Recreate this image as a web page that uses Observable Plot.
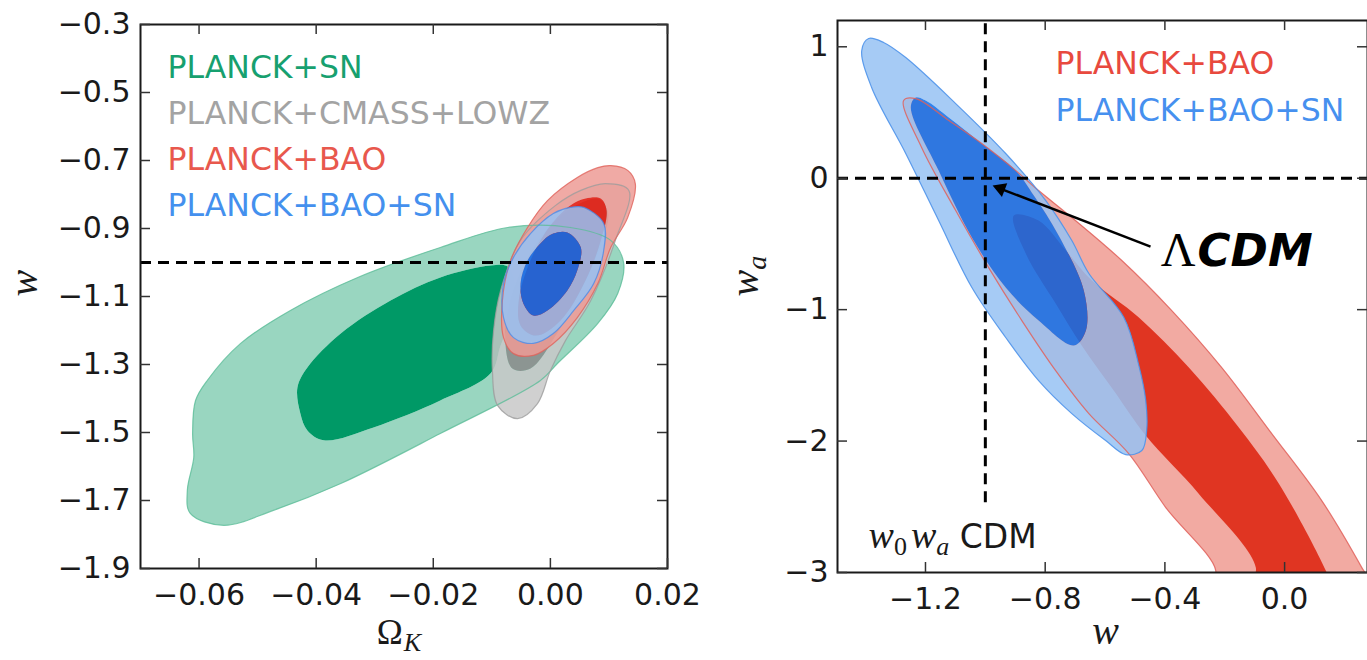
<!DOCTYPE html>
<html><head><meta charset="utf-8">
<script src="https://cdn.jsdelivr.net/npm/d3@7"></script>
<script src="https://cdn.jsdelivr.net/npm/@observablehq/plot@0.6"></script>
<style>
html,body{margin:0;padding:0;background:#fff;overflow:hidden;}
#fig{position:relative;width:1367px;height:660px;overflow:hidden;}
#left{position:absolute;left:0;top:0;}
#right{position:absolute;left:720px;top:0;}
</style></head><body>
<div id="fig"><div id="left"></div><div id="right"></div></div>
<script>
// ---------------- LEFT PANEL DATA (Omega_K, w) ----------------
const leftXTicks = [-0.06, -0.04, -0.02, 0.00, 0.02];
const leftYTicks = [-1.9, -1.7, -1.5, -1.3, -1.1, -0.9, -0.7, -0.5, -0.3];
const leftLCDM = [-1];
const leftLegendLabels = ["PLANCK+SN", "PLANCK+CMASS+LOWZ", "PLANCK+BAO", "PLANCK+BAO+SN"];

const snOuter = [[-0.0073,-0.897],[0.0034,-0.897],[0.0103,-0.935],[0.0125,-1.000],[0.0115,-1.091],[0.0081,-1.179],[0.0012,-1.297],[-0.0017,-1.347],[-0.0188,-1.503],[-0.0358,-1.650],[-0.0473,-1.729],[-0.0558,-1.773],[-0.0615,-1.738],[-0.0620,-1.670],[-0.0609,-1.573],[-0.0611,-1.503],[-0.0606,-1.406],[-0.0586,-1.347],[-0.0529,-1.238],[-0.0444,-1.141],[-0.0329,-1.044],[-0.0188,-0.956]];
const snInner = [[-0.0102,-1.009],[-0.0073,-1.012],[-0.0060,-1.068],[-0.0065,-1.156],[-0.0085,-1.244],[-0.0102,-1.326],[-0.0188,-1.406],[-0.0302,-1.485],[-0.0387,-1.523],[-0.0415,-1.494],[-0.0427,-1.444],[-0.0432,-1.368],[-0.0415,-1.309],[-0.0358,-1.209],[-0.0273,-1.112],[-0.0188,-1.044]];
const lssOuter = [[0.0094,-0.768],[0.0134,-0.788],[0.0111,-0.935],[0.0069,-1.112],[0.0026,-1.229],[0.0000,-1.318],[-0.0022,-1.415],[-0.0056,-1.459],[-0.0090,-1.421],[-0.0099,-1.318],[-0.0097,-1.200],[-0.0085,-1.082],[-0.0051,-0.935],[0.0009,-0.832],[0.0052,-0.788]];
const lssInner = [[0.0082,-0.812],[0.0099,-0.853],[0.0086,-0.950],[0.0052,-1.082],[0.0009,-1.215],[-0.0034,-1.312],[-0.0065,-1.312],[-0.0077,-1.229],[-0.0068,-1.112],[-0.0042,-0.994],[0.0000,-0.891],[0.0043,-0.832]];
const baoOuterL = [[0.0081,-0.721],[0.0103,-0.715],[0.0132,-0.729],[0.0145,-0.768],[0.0132,-0.868],[0.0103,-0.956],[0.0081,-1.062],[0.0046,-1.162],[0.0005,-1.238],[-0.0029,-1.273],[-0.0063,-1.268],[-0.0080,-1.221],[-0.0082,-1.112],[-0.0068,-0.994],[-0.0039,-0.897],[-0.0005,-0.818],[0.0046,-0.750]];
const baoInnerL = [[0.0060,-0.812],[0.0086,-0.812],[0.0096,-0.847],[0.0086,-0.935],[0.0060,-1.053],[0.0017,-1.171],[-0.0025,-1.215],[-0.0051,-1.185],[-0.0054,-1.112],[-0.0034,-0.994],[0.0000,-0.891],[0.0034,-0.832]];
const baoSnOuterL = [[0.0057,-0.838],[0.0091,-0.885],[0.0091,-0.965],[0.0074,-1.062],[0.0040,-1.141],[0.0005,-1.209],[-0.0029,-1.238],[-0.0063,-1.221],[-0.0080,-1.162],[-0.0080,-1.062],[-0.0063,-0.985],[-0.0034,-0.915],[0.0005,-0.856],[0.0034,-0.838]];
const baoSnInnerL = [[0.0029,-0.912],[0.0052,-0.956],[0.0046,-1.023],[0.0029,-1.082],[-0.0005,-1.141],[-0.0029,-1.156],[-0.0046,-1.121],[-0.0051,-1.062],[-0.0039,-0.994],[-0.0012,-0.935],[0.0005,-0.915]];

// ---------------- RIGHT PANEL DATA (w, w_a) ----------------
const rightXTicks = [-1.2, -0.8, -0.4, 0.0];
const rightYTicks = [-3, -2, -1, 0, 1];
const rightLCDMw = [-1];
const rightLCDMwa = [0];
const wDashRange = [-2.47, 1.2];
const rightLegendLabels = ["PLANCK+BAO", "PLANCK+BAO+SN"];

const baoOuterR = [[-1.273,0.591],[-1.233,0.606],[-1.122,0.439],[-1.012,0.264],[-0.898,0.058],[-0.822,-0.094],[-0.711,-0.299],[-0.544,-0.626],[-0.377,-1.007],[-0.210,-1.441],[-0.043,-1.943],[0.124,-2.453],[0.258,-2.963],[0.298,-3.138],[-0.253,-3.138],[-0.230,-2.986],[-0.397,-2.506],[-0.521,-2.095],[-0.654,-1.791],[-0.765,-1.464],[-0.878,-1.083],[-0.989,-0.680],[-1.099,-0.246],[-1.213,0.234]];
const baoInnerR = [[-0.905,-0.284],[-0.822,-0.322],[-0.731,-0.550],[-0.644,-0.779],[-0.487,-1.060],[-0.320,-1.441],[-0.153,-1.897],[-0.019,-2.324],[0.138,-2.986],[0.164,-3.138],[-0.120,-3.138],[-0.096,-2.963],[-0.287,-2.400],[-0.464,-1.958],[-0.571,-1.616],[-0.678,-1.273],[-0.765,-0.954],[-0.865,-0.573]];
const baoSnOuterR = [[-1.390,1.063],[-1.413,0.972],[-1.380,0.690],[-1.266,0.188],[-1.156,-0.322],[-1.045,-0.832],[-0.932,-1.212],[-0.822,-1.540],[-0.711,-1.791],[-0.598,-1.996],[-0.531,-2.103],[-0.477,-2.072],[-0.461,-1.920],[-0.464,-1.692],[-0.487,-1.426],[-0.537,-1.060],[-0.654,-0.725],[-0.711,-0.474],[-0.798,-0.170],[-0.932,0.188],[-1.099,0.568],[-1.266,0.918],[-1.340,1.033]];
const baoSnInnerR = [[-1.233,0.614],[-1.199,0.591],[-1.122,0.462],[-1.012,0.264],[-0.898,0.058],[-0.838,-0.132],[-0.755,-0.436],[-0.671,-0.855],[-0.664,-1.159],[-0.704,-1.273],[-0.822,-1.083],[-0.932,-0.832],[-1.045,-0.451],[-1.156,0.058],[-1.249,0.538]];

// annotations (data coordinates)
const arrowLine = [{x1: -0.448, y1: -0.520, x2: -0.955, y2: -0.075}];
const arrowHead = [{x: -0.949, y: -0.079}];
const lcdmLabel = [{x: -0.414, y: -0.665, text: "ΛCDM"}];
const modelLabel = [{x: -1.390, y: -2.81, text: "w0wa CDM"}];

// ---------------- STYLES ----------------
const C = {
  gOut: "#99d6c0", gOutLine: "#5dbd99", gIn: "#009966",
  kOut: "#c8c8c8", kOutLine: "#9c9c9c", kIn: "#8a8a8a",
  rOutL: "#ed9b95", rOutLineL: "#e0625a", rInL: "#e9180c",
  bOutL: "#95c2f4", bOutLineL: "#4d8be6", bInL: "#076df0",
  rOutR: "#f2aaa2", rOutLineR: "#e0605a", rInR: "#e03522",
  bOutR: "#96c2f3", bOutLineR: "#4f94ea", bInR: "#0d6eeb"
};
const leftLegendColors = ["#17a06f", "#a3a3a3", "#e8584d", "#4490ee"];
const rightLegendColors = ["#e8493e", "#4690ef"];
const SERIF = "Liberation Serif";
const SANS = "DejaVu Sans";
const A = 0.85;

const fillMark = (pts, color, op = 1) => Plot.line(pts, {x: d => d[0], y: d => d[1], curve: "catmull-rom-closed", fill: color, fillOpacity: op, stroke: "none", clip: true});
const lineMark = (pts, color, w = 1.2, op = 1) => Plot.line(pts, {x: d => d[0], y: d => d[1], curve: "catmull-rom-closed", fill: "none", stroke: color, strokeWidth: w, strokeOpacity: op, clip: true});

function ring(svg, outerColor, innerColor) {
  const o = svg.querySelector(`g[fill="${outerColor}"] path`);
  const i = svg.querySelector(`g[fill="${innerColor}"] path`);
  if (!o || !i) return;
  o.setAttribute("d", o.getAttribute("d") + " " + i.getAttribute("d"));
  o.setAttribute("fill-rule", "evenodd");
}
function richText(svg, content, parts) {
  d3.select(svg).selectAll("text").filter(function () { return this.textContent === content; }).each(function () {
    const t = d3.select(this);
    t.text(null);
    for (const p of parts) {
      const s = t.append("tspan").text(p.text);
      if (p.family) s.attr("font-family", p.family);
      if (p.size) s.attr("font-size", p.size);
      if (p.style) s.attr("font-style", p.style);
      if (p.weight) s.attr("font-weight", p.weight);
      if (p.dy) s.attr("dy", p.dy);
      if (p.dx) s.attr("dx", p.dx);
    }
  });
}

// ---------------- LEFT PLOT ----------------
const LW = 720, LH = 660, Lml = 140, Lmr = 53, Lmt = 24, Lmb = 92;
const Liw = LW - Lml - Lmr, Lih = LH - Lmt - Lmb;
const left = Plot.plot({
  width: LW, height: LH,
  marginLeft: Lml, marginRight: Lmr, marginTop: Lmt, marginBottom: Lmb,
  x: {domain: [-0.07, 0.02]},
  y: {domain: [-1.9, -0.3]},
  style: {fontFamily: SANS, fontSize: "30px", color: "#1a1a1a", background: "transparent", overflow: "visible"},
  marks: [
    fillMark(snOuter, C.gOut), fillMark(snInner, C.gIn),
    fillMark(lssOuter, C.kOut, A), fillMark(lssInner, C.kIn, A),
    fillMark(baoOuterL, C.rOutL, A), fillMark(baoInnerL, C.rInL, A),
    fillMark(baoSnOuterL, C.bOutL, A), fillMark(baoSnInnerL, C.bInL, A),
    lineMark(snOuter, C.gOutLine, 1.2, 0.8),
    lineMark(lssOuter, C.kOutLine, 1.2, 0.8),
    lineMark(baoOuterL, C.rOutLineL, 1.2, 0.8),
    lineMark(baoSnOuterL, C.bOutLineL, 1.2, 0.8),
    Plot.ruleY(leftLCDM, {stroke: "black", strokeWidth: 3, strokeDasharray: "11,7"}),
    Plot.frame({stroke: "#1a1a1a", strokeWidth: 2}),
    Plot.tickX(leftXTicks, {x: d => d, insetTop: Lih - 10, stroke: "#333", strokeWidth: 1.5}),
    Plot.tickX(leftXTicks, {x: d => d, insetBottom: Lih - 10, stroke: "#333", strokeWidth: 1.5}),
    Plot.tickY(leftYTicks, {y: d => d, insetRight: Liw - 10, stroke: "#333", strokeWidth: 1.5}),
    Plot.tickY(leftYTicks, {y: d => d, insetLeft: Liw - 10, stroke: "#333", strokeWidth: 1.5}),
    Plot.axisX(leftXTicks, {tickSize: 0, tickPadding: 15, tickFormat: ".2f", label: null}),
    Plot.axisY(leftYTicks, {tickSize: 0, tickPadding: 10, tickFormat: ".1f", label: null}),
    ...leftLegendLabels.map((lab, i) => Plot.text([lab], {text: d => d, frameAnchor: "top-left", dx: 27, dy: 53 + i * 46, textAnchor: "start", lineAnchor: "bottom", fill: leftLegendColors[i], fontSize: 31.5})),
    Plot.text(["w"], {text: d => d, frameAnchor: "left", dx: -116, rotate: -90, lineAnchor: "middle", fontFamily: SERIF, fontStyle: "italic", fontSize: 40}),
    Plot.text(["ΩK"], {text: d => d, frameAnchor: "bottom", dx: -5, dy: 75, lineAnchor: "bottom"})
  ]
});
richText(left, "ΩK", [{text: "Ω", family: SERIF, size: "35px"}, {text: "K", family: SERIF, style: "italic", size: "26px", dy: "7", dx: "1"}]);
ring(left, C.gOut, C.gIn);
ring(left, C.kOut, C.kIn);
ring(left, C.rOutL, C.rInL);
ring(left, C.bOutL, C.bInL);
document.getElementById("left").appendChild(left);

// ---------------- RIGHT PLOT ----------------
const RW = 647, RH = 660, Rml = 117, Rmr = 0, Rmt = 20, Rmb = 88;
const Riw = RW - Rml - Rmr, Rih = RH - Rmt - Rmb;
const right = Plot.plot({
  width: RW, height: RH,
  marginLeft: Rml, marginRight: Rmr, marginTop: Rmt, marginBottom: Rmb,
  x: {domain: [-1.494, 0.277]},
  y: {domain: [-3, 1.2]},
  style: {fontFamily: SANS, fontSize: "30px", color: "#1a1a1a", background: "transparent", overflow: "visible"},
  marks: [
    fillMark(baoOuterR, C.rOutR), fillMark(baoInnerR, C.rInR),
    fillMark(baoSnOuterR, C.bOutR, A), fillMark(baoSnInnerR, C.bInR, A),
    lineMark(baoOuterR, C.rOutLineR, 1.2, 0.85),
    lineMark(baoSnOuterR, C.bOutLineR, 1.2, 0.9),
    Plot.ruleY(rightLCDMwa, {stroke: "black", strokeWidth: 3, strokeDasharray: "11,7"}),
    Plot.ruleX(rightLCDMw, {y1: wDashRange[0], y2: wDashRange[1], stroke: "black", strokeWidth: 3, strokeDasharray: "11,7"}),
    Plot.frame({stroke: "#1a1a1a", strokeWidth: 2}),
    Plot.tickX(rightXTicks, {x: d => d, insetTop: Rih - 10, stroke: "#333", strokeWidth: 1.5}),
    Plot.tickX(rightXTicks, {x: d => d, insetBottom: Rih - 10, stroke: "#333", strokeWidth: 1.5}),
    Plot.tickY(rightYTicks, {y: d => d, insetRight: Riw - 10, stroke: "#333", strokeWidth: 1.5}),
    Plot.tickY(rightYTicks, {y: d => d, insetLeft: Riw - 10, stroke: "#333", strokeWidth: 1.5}),
    Plot.axisX(rightXTicks, {tickSize: 0, tickPadding: 15, tickFormat: ".1f", label: null}),
    Plot.axisY(rightYTicks, {tickSize: 0, tickPadding: 9, tickFormat: "d", label: null}),
    ...rightLegendLabels.map((lab, i) => Plot.text([lab], {text: d => d, frameAnchor: "top-left", dx: 218, dy: 53 + i * 47, textAnchor: "start", lineAnchor: "bottom", fill: rightLegendColors[i], fontSize: 31.5})),
    Plot.link(arrowLine, {x1: "x1", y1: "y1", x2: "x2", y2: "y2", stroke: "black", strokeWidth: 2.5}),
    Plot.dot(arrowHead, {x: "x", y: "y", symbol: "triangle", r: 5.5, rotate: -69, fill: "black", stroke: "none"}),
    Plot.text(lcdmLabel, {x: "x", y: "y", text: "text", textAnchor: "start", lineAnchor: "bottom", fill: "black"}),
    Plot.text(modelLabel, {x: "x", y: "y", text: "text", textAnchor: "start", lineAnchor: "bottom", fill: "#1a1a1a"}),
    Plot.text(["wa"], {text: d => d, frameAnchor: "left", dx: -89, rotate: -90, lineAnchor: "middle"}),
    Plot.text(["w"], {text: d => d, frameAnchor: "bottom", dx: 3, dy: 71, lineAnchor: "bottom", fontFamily: SERIF, fontStyle: "italic", fontSize: 40})
  ]
});
richText(right, "wa", [{text: "w", family: SERIF, style: "italic", size: "40px"}, {text: "a", family: SERIF, style: "italic", size: "28px", dy: "8"}]);
richText(right, "ΛCDM", [{text: "Λ", family: SERIF, size: "48px"}, {text: "CDM", family: SANS, weight: "bold", style: "italic", size: "45px", dx: "2"}]);
richText(right, "w0wa CDM", [
  {text: "w", family: SERIF, style: "italic", size: "38px"},
  {text: "0", family: SERIF, size: "26px", dy: "7"},
  {text: "w", family: SERIF, style: "italic", size: "38px", dy: "-7", dx: "4"},
  {text: "a", family: SERIF, style: "italic", size: "26px", dy: "7"},
  {text: " CDM", family: SANS, size: "33px", dy: "-7"}
]);
ring(right, C.bOutR, C.bInR);
document.getElementById("right").appendChild(right);
</script></body></html>
